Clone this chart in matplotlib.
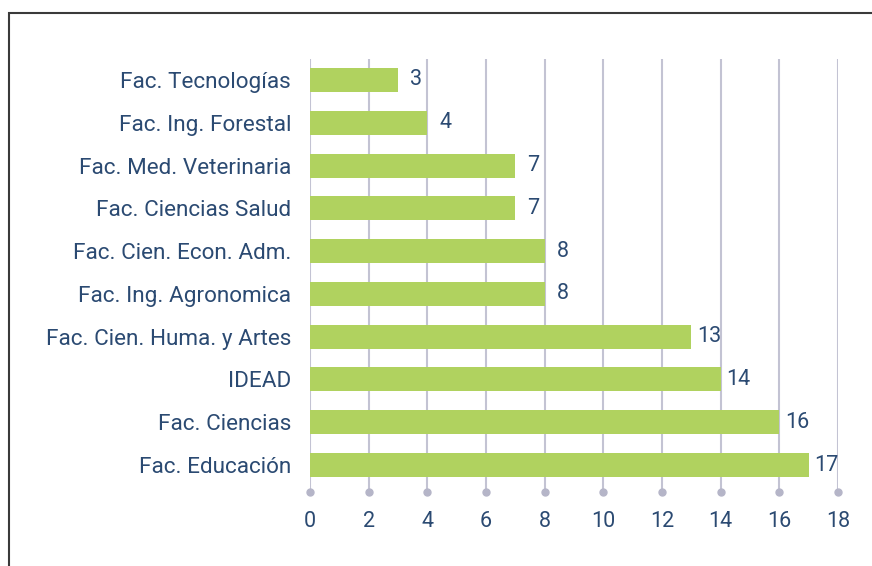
import matplotlib
matplotlib.use("Agg")
import matplotlib.pyplot as plt
from matplotlib.patches import Rectangle
import numpy as np

categories = ["Fac. Tecnologías", "Fac. Ing. Forestal", "Fac. Med. Veterinaria",
              "Fac. Ciencias Salud", "Fac. Cien. Econ. Adm.", "Fac. Ing. Agronomica",
              "Fac. Cien. Huma. y Artes", "IDEAD", "Fac. Ciencias", "Fac. Educación"]
values = [3, 4, 7, 7, 8, 8, 13, 14, 16, 17]
xticks = [0, 2, 4, 6, 8, 10, 12, 14, 16, 18]

W, H = 872, 566
fig = plt.figure(figsize=(W / 100, H / 100), dpi=100)
plt.rcParams['font.family'] = ['Roboto', 'DejaVu Sans']
text_color = '#2b4a72'
bar_color = '#b0d25f'
grid_color = '#c3c3d3'

left, right, top, bottom = 310, 838, 59, 492
ax = fig.add_axes([left / W, 1 - bottom / H, (right - left) / W, (bottom - top) / H])

y = np.arange(len(categories))
ax.barh(y, values, height=0.56, color=bar_color, zorder=3)
ax.set_xlim(0, 18)
ax.set_ylim(9.63, -0.49)
ax.set_xticks(xticks)
ax.set_xticklabels([str(t) for t in xticks], fontsize=15.5, color=text_color)
ax.set_yticks(y)
ax.set_yticklabels(categories, fontsize=16.2, color=text_color)
ax.tick_params(axis='both', length=0)
ax.tick_params(axis='x', pad=14)
ax.tick_params(axis='y', pad=13.5)
for s in ax.spines.values():
    s.set_visible(False)
ax.grid(axis='x', color=grid_color, linewidth=1.5, zorder=0)
ax.plot(xticks, [9.63] * len(xticks), 'o', color='#b5b5c8', markersize=5,
        clip_on=False, zorder=4)

for yi, v in zip(y, values):
    ax.annotate(str(v), xy=(v, yi), xytext=(13, 0), textcoords='offset points',
                va='center', ha='center', fontsize=15.5, color=text_color, zorder=5)

fig.patches.append(Rectangle((8.5 / W, -0.1), 1.2, 1 - 13.5 / H + 0.1,
                             transform=fig.transFigure, fill=False,
                             edgecolor='#3a3a3a', linewidth=1.5))

fig.savefig("out.png", dpi=100)
